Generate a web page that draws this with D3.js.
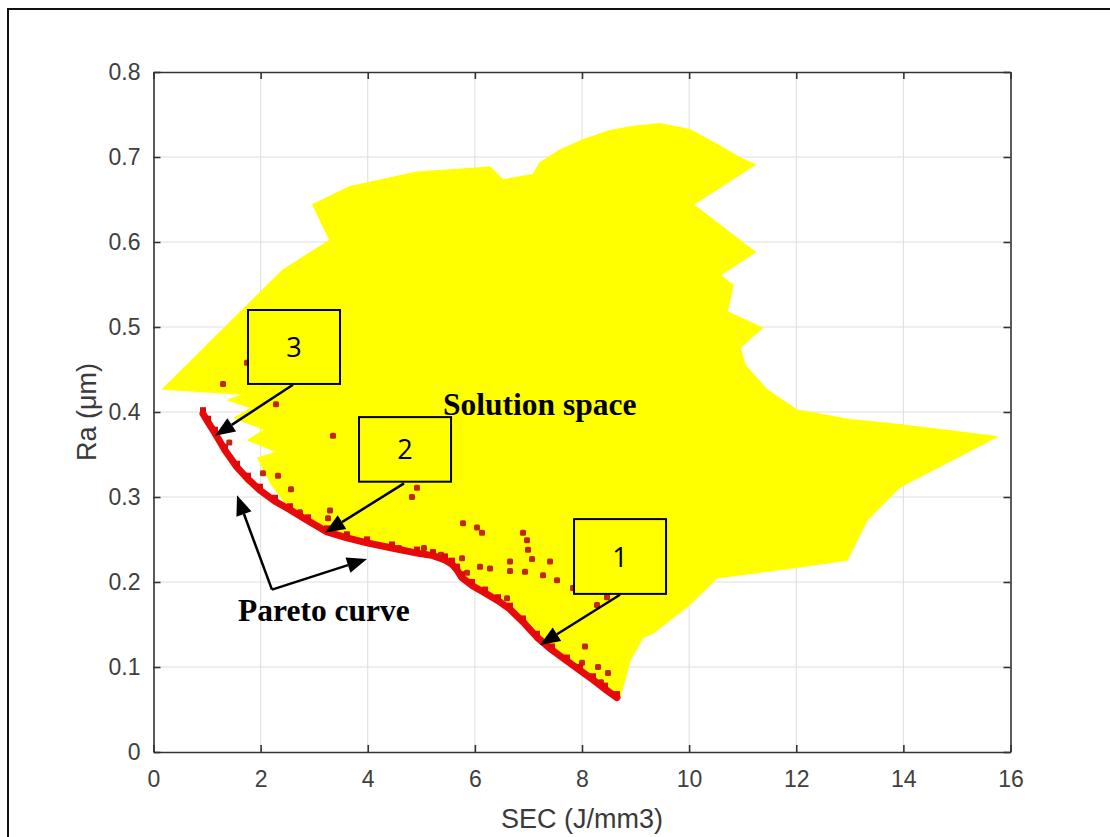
<!DOCTYPE html>
<html>
<head>
<meta charset="utf-8">
<script src="https://cdn.jsdelivr.net/npm/d3@7/dist/d3.min.js"></script>
<style>
  html, body { margin: 0; padding: 0; background: #fff; }
  svg { display: block; }
</style>
</head>
<body>
<script>
// Axis ticks
const xTicks = [0, 2, 4, 6, 8, 10, 12, 14, 16];
const yTicks = [0, 0.1, 0.2, 0.3, 0.4, 0.5, 0.6, 0.7, 0.8];
const yTickLabels = ["0", "0.1", "0.2", "0.3", "0.4", "0.5", "0.6", "0.7", "0.8"];

// Outline of the feasible solution space (SEC, Ra), traced clockwise
const spaceSEC = [0.177, 2.418, 3.295, 2.978, 3.669, 4.920, 6.282, 6.525, 7.085, 7.216,
  7.589, 8.018, 8.522, 8.952, 9.456, 10.016, 10.483, 10.950, 11.230, 10.072, 11.230, 10.576, 10.819,
  10.707, 11.361, 10.950, 11.043, 11.454, 12.014, 13.004, 13.937, 15.748, 13.937,
  13.321, 12.947, 12.070, 10.520, 9.960, 9.325, 9.139, 8.896, 8.710,
  8.653, 8.429, 8.205, 7.963, 7.720, 7.440, 7.160, 6.899, 6.656, 6.432, 6.190,
  5.947, 5.760, 5.667, 5.573, 5.442, 5.218, 4.919, 4.452, 3.986, 3.612, 3.239,
  2.884, 2.548,
  2.175, 1.951, 2.324, 1.764, 2.082, 1.522, 1.839, 1.391, 1.708];
const spaceRa = [0.427, 0.567, 0.602, 0.644, 0.665, 0.682, 0.688, 0.673, 0.679, 0.693,
  0.708, 0.720, 0.731, 0.736, 0.739, 0.732, 0.716, 0.699, 0.691, 0.644, 0.588, 0.561, 0.549,
  0.518, 0.499, 0.476, 0.455, 0.426, 0.402, 0.391, 0.385, 0.371, 0.312,
  0.273, 0.226, 0.218, 0.205, 0.171, 0.140, 0.135, 0.108, 0.065,
  0.064, 0.074, 0.085, 0.096, 0.107, 0.120, 0.135, 0.153, 0.168, 0.178, 0.187,
  0.196, 0.205, 0.214, 0.221, 0.226, 0.231, 0.234, 0.240, 0.246, 0.252, 0.259,
  0.272, 0.285,
  0.318, 0.346, 0.353, 0.367, 0.379, 0.393, 0.405, 0.414, 0.421];

// Pareto-optimal front
const paretoSEC = [0.924, 1.018, 1.148, 1.335, 1.559, 1.764, 1.988, 2.268, 2.548, 2.884,
  3.239, 3.612, 3.986, 4.452, 4.919, 5.218, 5.442, 5.573, 5.667, 5.760, 5.947,
  6.190, 6.432, 6.656, 6.899, 7.160, 7.440, 7.720, 7.963, 8.205, 8.429, 8.653];
const paretoRa = [0.398, 0.388, 0.375, 0.355, 0.335, 0.321, 0.308, 0.295, 0.285, 0.272,
  0.259, 0.252, 0.246, 0.240, 0.234, 0.231, 0.226, 0.221, 0.214, 0.205, 0.196,
  0.187, 0.178, 0.168, 0.153, 0.135, 0.120, 0.107, 0.096, 0.085, 0.074, 0.064];

// Near-optimal solutions scattered above the front
const scatterSEC = [1.298, 1.746, 2.287, 3.351, 2.044, 2.324, 2.567, 3.295, 3.258, 4.919,
  4.826, 5.778, 6.040, 6.133, 6.899, 6.973, 6.992, 7.067, 7.403, 5.760, 6.096,
  6.282, 5.853, 6.656, 6.656, 6.936, 7.272, 7.533, 7.832, 8.467, 8.280, 6.600,
  8.056, 8.000, 8.299, 8.485, 8.355, 1.415, 2.735, 4.584, 5.050, 5.367];
const scatterRa = [0.433, 0.458, 0.409, 0.372, 0.328, 0.325, 0.309, 0.284, 0.275, 0.311,
  0.300, 0.269, 0.264, 0.258, 0.258, 0.249, 0.238, 0.227, 0.224, 0.228, 0.218,
  0.216, 0.211, 0.224, 0.213, 0.212, 0.208, 0.202, 0.193, 0.182, 0.173, 0.181,
  0.124, 0.105, 0.100, 0.093, 0.082, 0.364, 0.282, 0.240, 0.240, 0.232];

// Numbered callouts: box extents and arrow from box to the front
const callouts = [
  { label: "3", x0: 1.764, x1: 3.482, yTop: 0.520, yBot: 0.433, from: [2.604, 0.432], to: [1.148, 0.372] },
  { label: "2", x0: 3.837, x1: 5.555, yTop: 0.394, yBot: 0.318, from: [4.677, 0.316], to: [3.202, 0.258] },
  { label: "1", x0: 7.851, x1: 9.569, yTop: 0.274, yBot: 0.186, from: [8.709, 0.185], to: [7.216, 0.126] }
];
const paretoArrowBase = [2.212, 0.191];
const paretoArrowTips = [[1.559, 0.302], [3.986, 0.227]];

const W = 1110, H = 837;
const svg = d3.select("body").append("svg").attr("width", W).attr("height", H);

// Outer figure frame (top and left edges)
svg.append("path").attr("d", `M8,${H} L8,9 L${W},9`)
  .attr("fill", "none").attr("stroke", "#111").attr("stroke-width", 2);

const pLeft = 153.5, pRight = 1010.5, pTop = 72, pBottom = 752;
const x = d3.scaleLinear().domain([0, 16]).range([pLeft, pRight]);
const y = d3.scaleLinear().domain([0, 0.8]).range([pBottom, pTop]);

// Grid
const grid = svg.append("g").attr("stroke", "#dedede").attr("stroke-width", 1);
grid.selectAll(".gx").data(xTicks.slice(1, -1)).join("line")
  .attr("x1", d => x(d)).attr("x2", d => x(d)).attr("y1", pTop).attr("y2", pBottom);
grid.selectAll(".gy").data(yTicks.slice(1, -1)).join("line")
  .attr("y1", d => y(d)).attr("y2", d => y(d)).attr("x1", pLeft).attr("x2", pRight);

// Solution space
const spacePts = spaceSEC.map((s, i) => [x(s), y(spaceRa[i])]);
svg.append("path")
  .attr("d", d3.line().curve(d3.curveLinearClosed)(spacePts))
  .attr("fill", "#ffff00").attr("stroke", "#ffff00").attr("stroke-width", 1.5)
  .attr("stroke-linejoin", "round");

// Scattered solutions
svg.append("g").selectAll("rect").data(scatterSEC).join("rect")
  .attr("x", (d) => x(d) - 3).attr("y", (d, i) => y(scatterRa[i]) - 3)
  .attr("width", 6).attr("height", 6).attr("rx", 1.5)
  .attr("fill", "#c4280c");

// Pareto front
const paretoPts = paretoSEC.map((s, i) => [x(s), y(paretoRa[i])]);
svg.append("path").attr("d", d3.line()(paretoPts))
  .attr("fill", "none").attr("stroke", "#e80a0a").attr("stroke-width", 7)
  .attr("stroke-linejoin", "round").attr("stroke-linecap", "round");
svg.append("g").selectAll("rect").data(paretoPts).join("rect")
  .attr("x", d => d[0] - 3).attr("y", d => d[1] - 6.5)
  .attr("width", 6).attr("height", 6).attr("fill", "#e00808");

// Axes (ticks inward, full box)
const tickFont = "'Liberation Sans', Arial, Helvetica, sans-serif";
const axisColor = "#333";
const gx = svg.append("g").attr("transform", `translate(0,${pBottom})`)
  .call(d3.axisBottom(x).tickValues(xTicks).tickFormat(d3.format("d"))
    .tickSizeInner(-7).tickSizeOuter(0).tickPadding(19));
const gy = svg.append("g").attr("transform", `translate(${pLeft},0)`)
  .call(d3.axisLeft(y).tickValues(yTicks).tickFormat((d, i) => yTickLabels[i])
    .tickSizeInner(-7).tickSizeOuter(0).tickPadding(13));
const gt = svg.append("g").attr("transform", `translate(0,${pTop})`)
  .call(d3.axisTop(x).tickValues(xTicks).tickFormat("").tickSizeInner(-7).tickSizeOuter(0));
const gr = svg.append("g").attr("transform", `translate(${pRight},0)`)
  .call(d3.axisRight(y).tickValues(yTicks).tickFormat("").tickSizeInner(-7).tickSizeOuter(0));
[gx, gy, gt, gr].forEach(g => {
  g.select(".domain").attr("stroke", axisColor).attr("stroke-width", 1.6);
  g.selectAll(".tick line").attr("stroke", axisColor).attr("stroke-width", 1.6);
  g.selectAll(".tick text").attr("fill", "#404040")
    .style("font-family", tickFont).style("font-size", "23px");
});

// Axis labels
svg.append("text").attr("x", (pLeft + pRight) / 2).attr("y", 828)
  .attr("text-anchor", "middle").attr("fill", "#3a3a3a")
  .style("font-family", tickFont).style("font-size", "27px")
  .text("SEC (J/mm3)");
svg.append("text").attr("transform", `translate(96,${(pTop + pBottom) / 2}) rotate(-90)`)
  .attr("text-anchor", "middle").attr("fill", "#3a3a3a")
  .style("font-family", tickFont).style("font-size", "27px")
  .text("Ra (μm)");

// Arrow helper
function arrow(g, p0, p1) {
  const [x0, y0] = p0, [x1, y1] = p1;
  const ang = Math.atan2(y1 - y0, x1 - x0);
  const len = 20, half = 8;
  const bx = x1 - len * Math.cos(ang), by = y1 - len * Math.sin(ang);
  g.append("line").attr("x1", x0).attr("y1", y0).attr("x2", bx).attr("y2", by)
    .attr("stroke", "#000").attr("stroke-width", 2.5);
  const px = -Math.sin(ang) * half, py = Math.cos(ang) * half;
  g.append("path")
    .attr("d", `M${x1},${y1} L${bx + px},${by + py} L${bx - px},${by - py} Z`)
    .attr("fill", "#000");
}

const ann = svg.append("g");
// Callout boxes with arrows
callouts.forEach(c => {
  arrow(ann, [x(c.from[0]), y(c.from[1])], [x(c.to[0]), y(c.to[1])]);
  ann.append("rect")
    .attr("x", x(c.x0)).attr("y", y(c.yTop))
    .attr("width", x(c.x1) - x(c.x0)).attr("height", y(c.yBot) - y(c.yTop))
    .attr("fill", "#ffff00").attr("stroke", "#000").attr("stroke-width", 2);
  ann.append("text")
    .attr("x", (x(c.x0) + x(c.x1)) / 2).attr("y", (y(c.yTop) + y(c.yBot)) / 2 + 10)
    .attr("text-anchor", "middle").attr("fill", "#000")
    .style("font-family", "'Open Sans', 'Noto Sans', sans-serif").style("font-size", "27px")
    .text(c.label);
});

// Pareto curve arrows
paretoArrowTips.forEach(t => arrow(ann, [x(paretoArrowBase[0]), y(paretoArrowBase[1])], [x(t[0]), y(t[1])]));

const serif = "'Liberation Serif', 'Times New Roman', serif";
ann.append("text").attr("x", x(5.405)).attr("y", y(0.396))
  .attr("fill", "#000").style("font-family", serif).style("font-weight", "bold")
  .style("font-size", "31.5px").text("Solution space");
ann.append("text").attr("x", x(1.578)).attr("y", y(0.154))
  .attr("fill", "#000").style("font-family", serif).style("font-weight", "bold")
  .style("font-size", "31.5px").text("Pareto curve");
</script>
</body>
</html>
